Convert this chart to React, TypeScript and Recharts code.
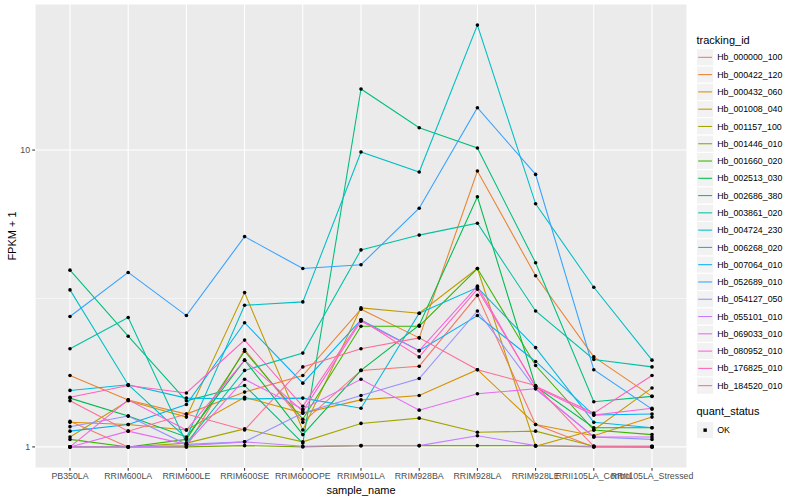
import { LineChart, Line, XAxis, YAxis, CartesianGrid, ReferenceLine } from 'recharts'

const samples = [
  'PB350LA',
  'RRIM600LA',
  'RRIM600LE',
  'RRIM600SE',
  'RRIM600OPE',
  'RRIM901LA',
  'RRIM928BA',
  'RRIM928LA',
  'RRIM928LE',
  'RRII105LA_Control',
  'RRII105LA_Stressed',
]

// FPKM + 1, one value per sample
const hb000000_100 = [1.22, 1, 1, 2.13, 1.21, 1.81, 1.87, 3.24, 1.19, 1, 1]
const hb000422_120 = [1.74, 1.44, 1.29, 1.53, 1.74, 2.91, 2.33, 8.5, 3.77, 2.01, 1.48]
const hb000432_060 = [1.21, 1.19, 1.14, 1.47, 1.3, 1.44, 1.49, 1.82, 1.19, 1.09, 1.26]
const hb001008_040 = [1.08, 1.43, 1.26, 3.31, 1.14, 2.94, 2.82, 3.99, 1.005, 1.14, 1.58]
const hb001157_100 = [1, 1, 1.03, 1.15, 1.04, 1.2, 1.25, 1.12, 1.13, 1.005, 1]
const hb001446_010 = [1, 1, 1, 1.01, 1, 1.01, 1.01, 1.01, 1.01, 1, 1]
const hb001660_020 = [1.06, 1, 1.06, 2.1, 1.24, 2.55, 2.55, 3.99, 1.88, 1.14, 1.1]
const hb002513_030 = [1.46, 1.27, 1.08, 1.96, 1.1, 1.81, 2.57, 6.96, 1.6, 1.16, 1.16]
const hb002686_380 = [3.94, 2.36, 1.43, 1.61, 1.03, 16.06, 11.89, 10.16, 4.17, 1.42, 1.48]
const hb003861_020 = [2.14, 2.73, 1.03, 1.81, 2.07, 4.61, 5.17, 5.67, 2.87, 1.97, 1.86]
const hb004724_230 = [3.38, 1.62, 1.07, 3.0, 3.08, 9.85, 8.43, 26.36, 6.59, 3.45, 1.96]
const hb006268_020 = [1.55, 1.62, 1.46, 1.45, 1.46, 1.35, 2.82, 3.44, 2.16, 1.21, 1.16]
const hb007064_010 = [1.13, 1.19, 1.39, 2.62, 1.64, 2.68, 2.11, 2.77, 1.94, 1.28, 1.29]
const hb052689_010 = [2.75, 3.87, 2.77, 5.11, 3.99, 4.11, 6.37, 13.89, 8.28, 1.82, 1.34]
const hb054127_050 = [1.17, 1.27, 1.02, 1.04, 1.3, 1.49, 1.7, 2.87, 1.57, 1.08, 1.06]
const hb055101_010 = [1, 1, 1.01, 1.04, 1.005, 1.01, 1.01, 1.09, 1.01, 1.005, 1.005]
const hb069033_010 = [1, 1.13, 1.02, 1.69, 1.34, 1.69, 1.33, 1.51, 1.57, 1.08, 1.08]
const hb080952_010 = [1, 1.44, 1.14, 1.96, 1.32, 2.65, 2.11, 3.48, 1.59, 1.28, 1.35]
const hb176825_010 = [1.47, 1.61, 1.52, 2.29, 1.37, 2.68, 2.01, 3.4, 1.6, 1.3, 1.74]
const hb184520_010 = [1.43, 1.13, 1.29, 1.14, 1.86, 2.14, 2.33, 1.82, 1.61, 1.005, 1.005]

const trackingIds = [
  'Hb_000000_100',
  'Hb_000422_120',
  'Hb_000432_060',
  'Hb_001008_040',
  'Hb_001157_100',
  'Hb_001446_010',
  'Hb_001660_020',
  'Hb_002513_030',
  'Hb_002686_380',
  'Hb_003861_020',
  'Hb_004724_230',
  'Hb_006268_020',
  'Hb_007064_010',
  'Hb_052689_010',
  'Hb_054127_050',
  'Hb_055101_010',
  'Hb_069033_010',
  'Hb_080952_010',
  'Hb_176825_010',
  'Hb_184520_010',
]

const seriesValues = [
  hb000000_100, hb000422_120, hb000432_060, hb001008_040, hb001157_100,
  hb001446_010, hb001660_020, hb002513_030, hb002686_380, hb003861_020,
  hb004724_230, hb006268_020, hb007064_010, hb052689_010, hb054127_050,
  hb055101_010, hb069033_010, hb080952_010, hb176825_010, hb184520_010,
]

const quantStatus = ['OK']
const yTicks = [1, 10]
const yMinor = [Math.sqrt(10)]

// ggplot hue palette, 20 levels
const palette = [
  '#F8766D', '#EA8331', '#D89000', '#C09B00', '#A3A500',
  '#7CAE00', '#39B600', '#00BB4E', '#00BF7D', '#00C1A3',
  '#00BFC4', '#00BAE0', '#00B0F6', '#35A2FF', '#9590FF',
  '#C77CFF', '#E76BF3', '#FA62DB', '#FF62BC', '#FF6C91',
]

const data = samples.map((sample, i) => {
  const row: Record<string, string | number> = { sample }
  trackingIds.forEach((id, j) => {
    row[id] = seriesValues[j][i]
  })
  return row
})

// log10 range expanded by 5% like ggplot
const all = seriesValues.flat()
const lo = Math.log10(Math.min(...all))
const hi = Math.log10(Math.max(...all))
const pad = (hi - lo) * 0.05
const yDomain = [Math.pow(10, lo - pad), Math.pow(10, hi + pad)]

const font = '"Liberation Sans", Arial, Helvetica, sans-serif'
const tickText = { fontSize: 8.8, fill: '#4D4D4D', fontFamily: font }
const tickLine = { stroke: '#333333', strokeWidth: 1.07 }

const renderDot = (props: any) => (
  <circle key={`pt-${props.dataKey}-${props.index}`} cx={props.cx} cy={props.cy} r={1.8} fill="#000000" />
)

function Legends() {
  const key = 17.28
  const top = 48.7
  const x0 = 696.5
  const qTop = 421.5
  return (
    <svg
      width={800}
      height={500}
      style={{ position: 'absolute', left: 0, top: 0, pointerEvents: 'none' }}
      fontFamily={font}
    >
      <text x={361} y={494} fontSize={11} textAnchor="middle" fill="#000">
        sample_name
      </text>
      <text x={16} y={236} fontSize={11} textAnchor="middle" fill="#000" transform="rotate(-90 16 236)">
        FPKM + 1
      </text>

      <text x={x0} y={44} fontSize={11} fill="#000">
        tracking_id
      </text>
      {trackingIds.map((id, i) => {
        const y = top + i * key
        return (
          <g key={id}>
            <rect x={x0} y={y} width={key} height={key} fill="#F2F2F2" stroke="#FFFFFF" strokeWidth={1.07} />
            <line x1={x0 + 1.7} x2={x0 + key - 1.7} y1={y + key / 2} y2={y + key / 2} stroke={palette[i]} strokeWidth={1.07} />
            <text x={x0 + key + 3.5} y={y + key / 2 + 3.1} fontSize={8.8} fill="#000">
              {id}
            </text>
          </g>
        )
      })}

      <text x={x0} y={415} fontSize={11} fill="#000">
        quant_status
      </text>
      {quantStatus.map((s, i) => {
        const y = qTop + i * key
        return (
          <g key={s}>
            <rect x={x0} y={y} width={key} height={key} fill="#F2F2F2" stroke="#FFFFFF" strokeWidth={1.07} />
            <rect x={x0 + key / 2 - 1.7} y={y + key / 2 - 1.7} width={3.4} height={3.4} fill="#000" />
            <text x={x0 + key + 3.5} y={y + key / 2 + 3.1} fontSize={8.8} fill="#000">
              {s}
            </text>
          </g>
        )
      })}
    </svg>
  )
}

export default function App() {
  return (
    <div style={{ position: 'absolute', left: 0, top: 0, width: 800, height: 500, background: '#FFFFFF' }}>
      <LineChart width={800} height={500} data={data} margin={{ top: 4, right: 113, bottom: 0, left: 0 }}>
        <CartesianGrid fill="#EBEBEB" stroke="#FFFFFF" strokeWidth={1.07} />
        {yMinor.map((v) => (
          <ReferenceLine key={v} y={v} stroke="#FFFFFF" strokeWidth={0.53} />
        ))}
        <XAxis
          dataKey="sample"
          type="category"
          height={32}
          padding={{ left: 35, right: 35 }}
          interval={0}
          axisLine={false}
          tickLine={tickLine}
          tickSize={2.75}
          tickMargin={2.2}
          tick={tickText}
        />
        <YAxis
          type="number"
          scale="log"
          domain={yDomain}
          allowDataOverflow
          ticks={yTicks}
          interval={0}
          width={35}
          axisLine={false}
          tickLine={tickLine}
          tickSize={2.75}
          tickMargin={2.2}
          tick={tickText}
          tickFormatter={(v: number) => String(v)}
        />
        {trackingIds.map((id, i) => (
          <Line
            key={id}
            type="linear"
            dataKey={id}
            stroke={palette[i]}
            strokeWidth={1.07}
            dot={false}
            activeDot={false}
            isAnimationActive={false}
          />
        ))}
        {trackingIds.map((id) => (
          <Line
            key={`${id}-points`}
            type="linear"
            dataKey={id}
            stroke="none"
            dot={renderDot}
            activeDot={false}
            legendType="none"
            isAnimationActive={false}
          />
        ))}
      </LineChart>
      <Legends />
    </div>
  )
}
